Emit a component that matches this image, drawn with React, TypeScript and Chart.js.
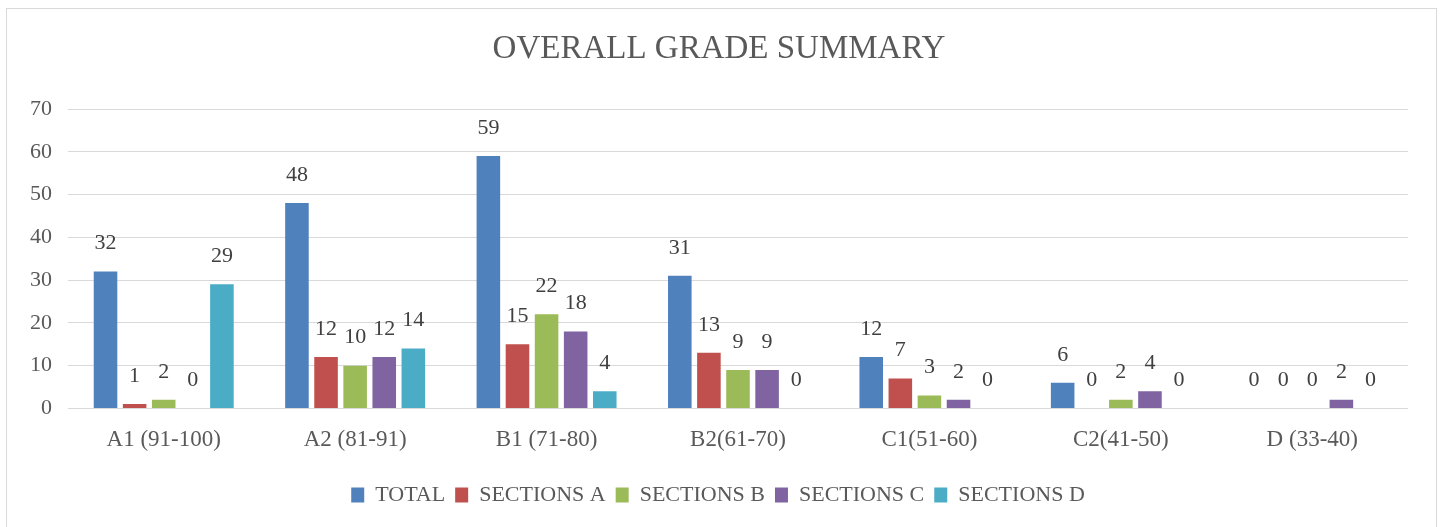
import React, { useEffect, useRef } from "react";
import { Chart, registerables } from "chart.js";

Chart.register(...registerables);

const categories = ["A1 (91-100)", "A2 (81-91)", "B1 (71-80)", "B2(61-70)", "C1(51-60)", "C2(41-50)", "D (33-40)"];
const totalValues = [32, 48, 59, 31, 12, 6, 0];
const sectionA = [1, 12, 15, 13, 7, 0, 0];
const sectionB = [2, 10, 22, 9, 3, 2, 0];
const sectionC = [0, 12, 18, 9, 2, 4, 2];
const sectionD = [29, 14, 4, 0, 0, 0, 0];
const seriesNames = ["TOTAL", "SECTIONS A", "SECTIONS B", "SECTIONS C", "SECTIONS D"];
const seriesColors = ["#4f81bd", "#c0504d", "#9bbb59", "#8064a2", "#4bacc6"];
const chartTitle = "OVERALL GRADE SUMMARY";

const FONT = "'Liberation Serif', 'DejaVu Serif', serif";

const valueLabels = {
  id: "valueLabels",
  afterDatasetsDraw(chart: any) {
    const ctx = chart.ctx;
    ctx.save();
    ctx.font = `22px ${FONT}`;
    ctx.fillStyle = "#404040";
    ctx.textAlign = "center";
    ctx.textBaseline = "middle";
    chart.data.datasets.forEach((ds: any, i: number) => {
      const meta = chart.getDatasetMeta(i);
      meta.data.forEach((el: any, j: number) => {
        ctx.fillText(String(ds.data[j]), el.x, el.y - 28);
      });
    });
    ctx.restore();
  },
};

const legendShift = {
  id: "legendShift",
  afterLayout(chart: any) {
    if (chart.legend) {
      chart.legend.left += 7;
      chart.legend.right += 7;
    }
  },
};

const frame = {
  id: "frame",
  beforeDraw(chart: any) {
    const ctx = chart.ctx;
    ctx.save();
    ctx.fillStyle = "#ffffff";
    ctx.fillRect(0, 0, chart.width, chart.height);
    ctx.strokeStyle = "#d9d9d9";
    ctx.lineWidth = 1;
    ctx.strokeRect(6.5, 8.5, 1430, 530);
    ctx.font = `33px ${FONT}`;
    ctx.fillStyle = "#595959";
    ctx.textAlign = "center";
    ctx.textBaseline = "middle";
    ctx.fillText(chartTitle, 719, 49);
    ctx.restore();
  },
};

export default function App() {
  const ref = useRef<HTMLCanvasElement>(null);
  useEffect(() => {
    if (!ref.current) return;
    const data = [totalValues, sectionA, sectionB, sectionC, sectionD];
    const chart = new Chart(ref.current, {
      type: "bar",
      data: {
        labels: categories,
        datasets: seriesNames.map((name, i) => ({
          label: name,
          data: data[i],
          backgroundColor: seriesColors[i],
          categoryPercentage: 0.76,
          barPercentage: 0.81,
        })),
      },
      options: {
        animation: false,
        responsive: false,
        layout: { padding: { left: 14, right: 37, top: 109, bottom: 11 } },
        plugins: {
          title: { display: false },
          legend: {
            position: "bottom",
            labels: {
              color: "#595959",
              font: { family: FONT, size: 22 },
              boxWidth: 13,
              boxHeight: 15,
              padding: 10,
            },
          },
          tooltip: { enabled: false },
        },
        scales: {
          x: {
            grid: { display: false },
            border: { display: false },
            ticks: { color: "#595959", font: { family: FONT, size: 23 }, padding: 10 },
            afterFit(scale: any) {
              scale.height += 10;
            },
          },
          y: {
            min: 0,
            max: 70,
            ticks: { stepSize: 10, color: "#595959", font: { family: FONT, size: 22 }, padding: 16 },
            grid: { color: "#d9d9d9", drawTicks: false },
            border: { display: false },
          },
        },
      },
      plugins: [frame, valueLabels, legendShift],
    });
    return () => chart.destroy();
  }, []);
  return (
    <div style={{ position: "fixed", left: 0, top: 0, width: 1445, height: 527 }}>
      <canvas ref={ref} width={1445} height={527} style={{ display: "block" }} />
    </div>
  );
}
